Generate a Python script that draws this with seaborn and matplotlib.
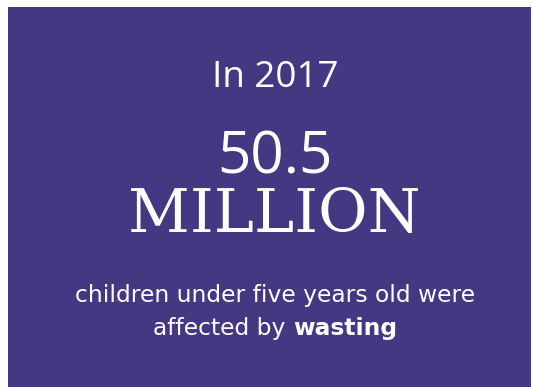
import matplotlib
matplotlib.use("Agg")
import matplotlib.pyplot as plt
import matplotlib.patches as mpatches
import seaborn as sns

# Infografik metinleri
yil_metni = "In 2017"
sayi_metni = "50.5"
birim_metni = "MILLION"
alt_satir_1 = "children under five years old were"
alt_satir_2_normal = "affected by "
alt_satir_2_kalin = "wasting"

arka_renk = "#463783"
yazi_renk = "white"

sns.set_theme(style="white")
plt.rcParams["font.family"] = ["Open Sans", "DejaVu Sans"]

fig = plt.figure(figsize=(5.33, 3.87), dpi=100)
ax = fig.add_axes([0, 0, 1, 1])
ax.set_xlim(0, 533)
ax.set_ylim(387, 0)
ax.axis("off")

# mor kutu
ax.add_patch(mpatches.Rectangle((8, 7), 523, 380, color=arka_renk, lw=0))

orta = 273
ax.text(orta + 2, 87, yil_metni, color=yazi_renk, fontsize=26.5, ha="center", va="baseline")
ax.text(orta + 2, 173, sayi_metni, color=yazi_renk, fontsize=42, ha="center", va="baseline")
ax.text(orta + 1, 232, birim_metni, color=yazi_renk, fontsize=43.5, ha="center", va="baseline",
        family=["DejaVu Serif"])

alt_font = ["DejaVu Sans"]
alt_boyut = 16.8
ax.text(orta + 2, 302, alt_satir_1, color=yazi_renk, fontsize=alt_boyut, ha="center", va="baseline",
        family=alt_font)

# ikinci satır: normal + kalın parça, birlikte ortalanıyor
t1 = ax.text(0, 335, alt_satir_2_normal, color=yazi_renk, fontsize=alt_boyut, ha="left", va="baseline",
             family=alt_font)
t2 = ax.text(0, 335, alt_satir_2_kalin, color=yazi_renk, fontsize=alt_boyut, ha="left", va="baseline",
             fontweight="bold", family=alt_font)
fig.canvas.draw()
r = fig.canvas.get_renderer()
w1 = t1.get_window_extent(r).width
w2 = t2.get_window_extent(r).width
sol = orta + 2 - (w1 + w2) / 2
t1.set_x(sol)
t2.set_x(sol + w1)

fig.savefig("out.png", dpi=100)
